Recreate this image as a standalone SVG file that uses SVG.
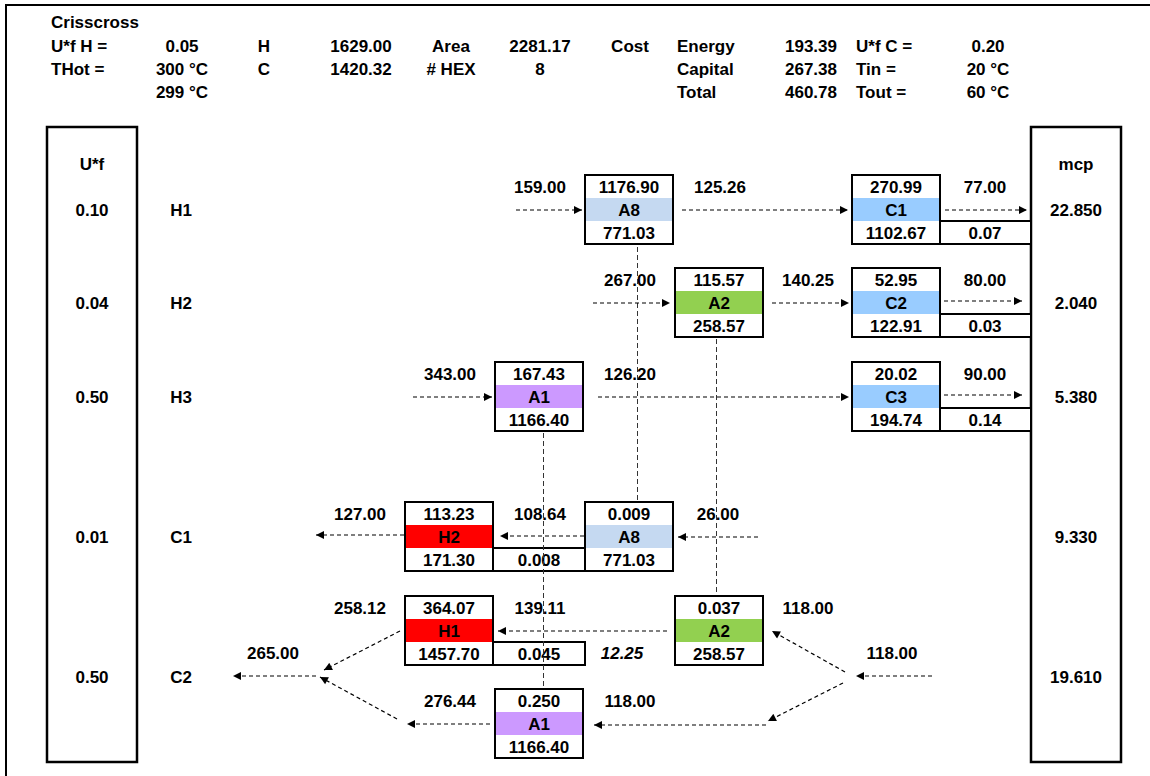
<svg xmlns="http://www.w3.org/2000/svg" width="1150" height="776" viewBox="0 0 1150 776">
<defs>
<style>
text{font-family:"Liberation Sans",Arial,sans-serif;font-weight:bold;font-size:17px;fill:#000}
.m{text-anchor:middle}
.e{text-anchor:end}
.i{font-style:italic}
.box{fill:#fff;stroke:#000;stroke-width:2}
.frame{fill:none;stroke:#000;stroke-width:2}
.col{fill:none;stroke:#000;stroke-width:2.5}
.flow{fill:none;stroke:#000;stroke-width:1.2;stroke-dasharray:4 3;marker-end:url(#ah)}
.match{fill:none;stroke:#333;stroke-width:1;stroke-dasharray:5 3}
.cA8{fill:#C5D9F1}.cC{fill:#99CCFF}.cA2{fill:#92D050}.cA1{fill:#CC99FF}.cH{fill:#FF0000}
</style>
<marker id="ah" viewBox="0 0 10 10" refX="10" refY="5" markerWidth="9" markerHeight="8" markerUnits="userSpaceOnUse" orient="auto"><path d="M0,0L10,5L0,10z" fill="#000"/></marker>
</defs>
<rect width="1150" height="776" fill="#fff"/>
<rect class="frame" x="6" y="5" width="1160" height="800"/>

<g id="header">
<text x="51" y="28">Crisscross</text>
<text x="51" y="52">U*f H =</text>
<text class="m" x="182" y="52">0.05</text>
<text class="m" x="264" y="52">H</text>
<text class="m" x="361" y="52">1629.00</text>
<text class="m" x="451" y="52">Area</text>
<text class="m" x="540" y="52">2281.17</text>
<text class="m" x="630" y="52">Cost</text>
<text x="677" y="52">Energy</text>
<text class="e" x="837" y="52">193.39</text>
<text x="856" y="52">U*f C =</text>
<text class="m" x="988" y="52">0.20</text>
<text x="51" y="75">THot =</text>
<text class="m" x="182" y="75">300 °C</text>
<text class="m" x="264" y="75">C</text>
<text class="m" x="361" y="75">1420.32</text>
<text class="m" x="451" y="75"># HEX</text>
<text class="m" x="540" y="75">8</text>
<text x="677" y="75">Capital</text>
<text class="e" x="837" y="75">267.38</text>
<text x="856" y="75">Tin =</text>
<text class="m" x="988" y="75">20 °C</text>
<text class="m" x="182" y="98">299 °C</text>
<text x="677" y="98">Total</text>
<text class="e" x="837" y="98">460.78</text>
<text x="856" y="98">Tout =</text>
<text class="m" x="988" y="98">60 °C</text>
</g>

<g id="ufcol">
<rect class="col" x="47" y="127" width="90" height="635"/>
<text class="m" x="92" y="170">U*f</text>
<text class="m" x="92" y="216">0.10</text>
<text class="m" x="92" y="309">0.04</text>
<text class="m" x="92" y="403">0.50</text>
<text class="m" x="92" y="543">0.01</text>
<text class="m" x="92" y="683">0.50</text>
</g>
<g id="streams">
<text class="m" x="181" y="216">H1</text>
<text class="m" x="181" y="309">H2</text>
<text class="m" x="181" y="403">H3</text>
<text class="m" x="181" y="543">C1</text>
<text class="m" x="181" y="683">C2</text>
</g>
<g id="mcpcol">
<rect class="col" x="1031" y="127" width="90" height="635"/>
<text class="m" x="1076" y="170">mcp</text>
<text class="m" x="1076" y="216">22.850</text>
<text class="m" x="1076" y="309">2.040</text>
<text class="m" x="1076" y="403">5.380</text>
<text class="m" x="1076" y="543">9.330</text>
<text class="m" x="1076" y="683">19.610</text>
</g>

<g id="node-A8-H1">
<rect class="box" x="585" y="175" width="88" height="69"/>
<rect class="cA8" x="586" y="198" width="86" height="23"/>
<text class="m" x="629" y="192.5">1176.90</text>
<text class="m" x="629" y="215.5">A8</text>
<text class="m" x="629" y="238.5">771.03</text>
</g>
<g id="node-C1">
<rect class="box" x="852" y="175" width="88" height="69"/>
<rect class="cC" x="853" y="198" width="86" height="23"/>
<rect class="box" x="940" y="221" width="91" height="23"/>
<text class="m" x="896" y="192.5">270.99</text>
<text class="m" x="896" y="215.5">C1</text>
<text class="m" x="896" y="238.5">1102.67</text>
<text class="m" x="985" y="238.5">0.07</text>
</g>
<g id="node-A2-H2">
<rect class="box" x="675" y="268" width="88" height="69"/>
<rect class="cA2" x="676" y="291" width="86" height="23"/>
<text class="m" x="719" y="285.5">115.57</text>
<text class="m" x="719" y="308.5">A2</text>
<text class="m" x="719" y="331.5">258.57</text>
</g>
<g id="node-C2">
<rect class="box" x="852" y="268" width="88" height="69"/>
<rect class="cC" x="853" y="291" width="86" height="23"/>
<rect class="box" x="940" y="314" width="91" height="23"/>
<text class="m" x="896" y="285.5">52.95</text>
<text class="m" x="896" y="308.5">C2</text>
<text class="m" x="896" y="331.5">122.91</text>
<text class="m" x="985" y="331.5">0.03</text>
</g>
<g id="node-A1-H3">
<rect class="box" x="495" y="362" width="88" height="69"/>
<rect class="cA1" x="496" y="385" width="86" height="23"/>
<text class="m" x="539" y="379.5">167.43</text>
<text class="m" x="539" y="402.5">A1</text>
<text class="m" x="539" y="425.5">1166.40</text>
</g>
<g id="node-C3">
<rect class="box" x="852" y="362" width="88" height="69"/>
<rect class="cC" x="853" y="385" width="86" height="23"/>
<rect class="box" x="940" y="408" width="91" height="23"/>
<text class="m" x="896" y="379.5">20.02</text>
<text class="m" x="896" y="402.5">C3</text>
<text class="m" x="896" y="425.5">194.74</text>
<text class="m" x="985" y="425.5">0.14</text>
</g>
<g id="node-H2">
<rect class="box" x="405" y="502" width="88" height="69"/>
<rect class="cH" x="406" y="525" width="86" height="23"/>
<rect class="box" x="493" y="548" width="92" height="23"/>
<text class="m" x="449" y="519.5">113.23</text>
<text class="m" x="449" y="542.5">H2</text>
<text class="m" x="449" y="565.5">171.30</text>
<text class="m" x="539" y="565.5">0.008</text>
</g>
<g id="node-A8-C1">
<rect class="box" x="585" y="502" width="88" height="69"/>
<rect class="cA8" x="586" y="525" width="86" height="23"/>
<text class="m" x="629" y="519.5">0.009</text>
<text class="m" x="629" y="542.5">A8</text>
<text class="m" x="629" y="565.5">771.03</text>
</g>
<g id="node-H1">
<rect class="box" x="405" y="596" width="88" height="69"/>
<rect class="cH" x="406" y="619" width="86" height="23"/>
<rect class="box" x="493" y="642" width="92" height="23"/>
<text class="m" x="449" y="613.5">364.07</text>
<text class="m" x="449" y="636.5">H1</text>
<text class="m" x="449" y="659.5">1457.70</text>
<text class="m" x="539" y="659.5">0.045</text>
</g>
<g id="node-A2-C2">
<rect class="box" x="675" y="596" width="88" height="69"/>
<rect class="cA2" x="676" y="619" width="86" height="23"/>
<text class="m" x="719" y="613.5">0.037</text>
<text class="m" x="719" y="636.5">A2</text>
<text class="m" x="719" y="659.5">258.57</text>
</g>
<g id="node-A1-C2">
<rect class="box" x="495" y="689" width="88" height="69"/>
<rect class="cA1" x="496" y="712" width="86" height="23"/>
<text class="m" x="539" y="706.5">0.250</text>
<text class="m" x="539" y="729.5">A1</text>
<text class="m" x="539" y="752.5">1166.40</text>
</g>

<g id="flow-labels">
<text class="m" x="540" y="192.5">159.00</text>
<text class="m" x="720" y="192.5">125.26</text>
<text class="m" x="985" y="192.5">77.00</text>
<text class="m" x="630" y="285.5">267.00</text>
<text class="m" x="808" y="285.5">140.25</text>
<text class="m" x="985" y="285.5">80.00</text>
<text class="m" x="450" y="379.5">343.00</text>
<text class="m" x="630" y="379.5">126.20</text>
<text class="m" x="985" y="379.5">90.00</text>
<text class="m" x="360" y="519.5">127.00</text>
<text class="m" x="540" y="519.5">108.64</text>
<text class="m" x="718" y="519.5">26.00</text>
<text class="m" x="360" y="613.5">258.12</text>
<text class="m" x="540" y="613.5">139.11</text>
<text class="m" x="808" y="613.5">118.00</text>
<text class="m" x="273" y="659">265.00</text>
<text class="m i" x="622" y="659">12.25</text>
<text class="m" x="892" y="659">118.00</text>
<text class="m" x="450" y="706.5">276.44</text>
<text class="m" x="630" y="706.5">118.00</text>
</g>

<g id="connectors">
<path class="match" d="M637.5,247V500"/>
<path class="match" d="M716.5,339V594"/>
<path class="match" d="M543.5,433V687"/>
<path class="flow" d="M516,210H582"/>
<path class="flow" d="M682,210H848"/>
<path class="flow" d="M945,210H1027"/>
<path class="flow" d="M593,303H670"/>
<path class="flow" d="M772,303H849"/>
<path class="flow" d="M944,301H1022"/>
<path class="flow" d="M413,397H492"/>
<path class="flow" d="M598,397H849"/>
<path class="flow" d="M944,395H1022"/>
<path class="flow" d="M758,537H678"/>
<path class="flow" d="M584,536H500"/>
<path class="flow" d="M404,535H316"/>
<path class="flow" d="M932,676H856"/>
<path class="flow" d="M845,672L772,631"/>
<path class="flow" d="M843,683L768,721"/>
<path class="flow" d="M766,725H594"/>
<path class="flow" d="M667,631H498"/>
<path class="flow" d="M490,724H407"/>
<path class="flow" d="M400,631L324,670"/>
<path class="flow" d="M397,719L320,677"/>
<path class="flow" d="M316,676H233"/>
</g>
</svg>
